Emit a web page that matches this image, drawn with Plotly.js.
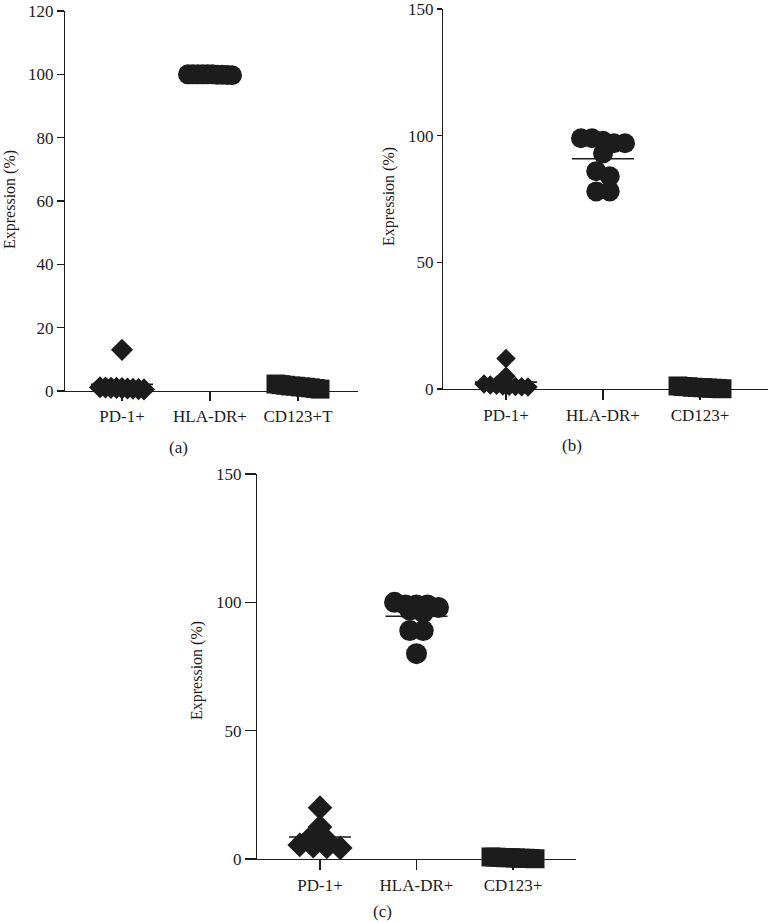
<!DOCTYPE html>
<html>
<head>
<meta charset="utf-8">
<script src="https://cdn.plot.ly/plotly-3.0.1.min.js"></script>
<style>
  html, body { margin: 0; padding: 0; background: #fff; }
  #chart { width: 770px; height: 922px; }
</style>
</head>
<body>
<div id="chart"></div>
<script>
// ---- data ----
const categoriesA = ['PD-1+', 'HLA-DR+', 'CD123+T'];
const categoriesBC = ['PD-1+', 'HLA-DR+', 'CD123+'];
const yTicksA = [0, 20, 40, 60, 80, 100, 120];
const yTicksBC = [0, 50, 100, 150];

// panel (a)
const aPD1 = [13, 1.2, 1.1, 1.0, 1.0, 0.9, 0.8, 0.7, 0.6, 0.5];
const aHLADR = [100, 100, 99.9, 100, 99.8, 100, 99.9, 100, 99.7, 100];
const aCD123 = [2.2, 2.0, 1.8, 1.6, 1.5, 1.3, 1.2, 1.0, 0.8, 0.6];

// panel (b)
const bPD1 = [12, 5, 2.0, 1.6, 1.5, 1.2, 1.1, 1.0, 0.9, 0.8];
const bHLADR = [99, 99, 98, 97, 97, 93, 86, 84, 78, 78];
const bCD123 = [1.2, 1.0, 0.9, 0.7, 0.6, 0.5, 0.4, 0.3, 0.2, 0.1];

// panel (c)
const cPD1 = [20, 12.5, 9.4, 7.4, 5.5, 5.0, 4.7, 4.3];
const cHLADR = [100, 99, 99, 99, 98, 97, 96, 89, 89, 80];
const cCD123 = [0.8, 0.7, 0.6, 0.5, 0.5, 0.4, 0.3, 0.3, 0.2, 0.1];

// ---- layout geometry (pixels in the 770x922 page) ----
const W = 770, H = 922;
const INK = '#1c1c1c';
const FONT = '"Liberation Serif", "Times New Roman", serif';
const TICK_SIZE = 17, TITLE_SIZE = 16, LABEL_SIZE = 17;

const panels = [
  { key: '', label: '(a)', cats: categoriesA, yTicks: yTicksA, yMax: 120,
    groups: [aPD1, aHLADR, aCD123],
    yAxisX: 64, xLeft: 57, xRight: 358, yTop: 11, yBottom: 391,
    cat0: 122, catStep: 88, yTickLen: 7, xTickLen: 9,
    sizes: [17, 20, 19], labelX: 178, labelY: 447, titleX: 10, titleY: 200 },
  { key: '2', label: '(b)', cats: categoriesBC, yTicks: yTicksBC, yMax: 150,
    groups: [bPD1, bHLADR, bCD123],
    yAxisX: 442, xLeft: 437, xRight: 768, yTop: 9, yBottom: 389,
    cat0: 506, catStep: 97, yTickLen: 5, xTickLen: 10,
    sizes: [15, 20, 19], labelX: 572, labelY: 445, titleX: 389, titleY: 197 },
  { key: '3', label: '(c)', cats: categoriesBC, yTicks: yTicksBC, yMax: 150,
    groups: [cPD1, cHLADR, cCD123],
    yAxisX: 256, xLeft: 245, xRight: 576, yTop: 474, yBottom: 859,
    cat0: 320, catStep: 96.5, yTickLen: 11, xTickLen: 10,
    sizes: [19, 21, 19], labelX: 382, labelY: 911, titleX: 197, titleY: 670 }
];

const symbols = ['diamond', 'circle', 'square'];

// Column scatter layout: points with close values share a row and are
// spread sideways around the category centre.
function spreadColumn(values, catIndex, p) {
  const pxPerUnit = (p.yBottom - p.yTop) / p.yMax;
  const rowTolPx = 6, stepPx = 13.5, maxWidthPx = 44;
  const order = values.map((v, i) => i).sort((i, j) => values[j] - values[i]);
  const rows = [];
  order.forEach(i => {
    const row = rows[rows.length - 1];
    if (row && (values[row[0]] - values[i]) * pxPerUnit <= rowTolPx) row.push(i);
    else rows.push([i]);
  });
  const xs = new Array(values.length);
  rows.forEach(row => {
    const n = row.length;
    const step = n > 1 ? Math.min(stepPx, maxWidthPx / (n - 1)) : 0;
    row.forEach((idx, k) => {
      xs[idx] = catIndex + ((k - (n - 1) / 2) * step) / p.catStep;
    });
  });
  return xs;
}

const traces = [];
const layout = {
  width: W, height: H,
  margin: { l: 0, r: 0, t: 0, b: 0 },
  paper_bgcolor: '#fff', plot_bgcolor: 'rgba(0,0,0,0)',
  showlegend: false,
  font: { family: FONT, color: INK, size: TICK_SIZE },
  annotations: []
};

panels.forEach(p => {
  const xa = 'x' + p.key, ya = 'y' + p.key;
  const meanHalfWidth = 31 / p.catStep;

  // mean lines underneath the points
  p.groups.forEach((vals, gi) => {
    const mean = vals.reduce((s, v) => s + v, 0) / vals.length;
    traces.push({
      type: 'scatter', mode: 'lines', xaxis: xa, yaxis: ya,
      x: [gi - meanHalfWidth, gi + meanHalfWidth], y: [mean, mean],
      line: { color: INK, width: 1.6 }, hoverinfo: 'skip', cliponaxis: false
    });
  });

  // individual values
  p.groups.forEach((vals, gi) => {
    traces.push({
      type: 'scatter', mode: 'markers', xaxis: xa, yaxis: ya,
      name: p.cats[gi],
      x: spreadColumn(vals, gi, p), y: vals,
      marker: { symbol: symbols[gi], size: p.sizes[gi], color: INK,
                line: { width: 0 } },
      cliponaxis: false
    });
  });

  const xRange = [-(p.cat0 - p.xLeft) / p.catStep, 2 + (p.xRight - (p.cat0 + 2 * p.catStep)) / p.catStep];

  layout['xaxis' + p.key] = {
    domain: [p.xLeft / W, p.xRight / W],
    anchor: ya, range: xRange,
    tickmode: 'array', tickvals: [0, 1, 2], ticktext: p.cats,
    showline: true, linecolor: INK, linewidth: 1.3,
    ticks: 'outside', ticklen: p.xTickLen, tickwidth: 1.3, tickcolor: INK,
    showgrid: false, zeroline: false, ticklabeloverflow: 'allow',
    tickfont: { family: FONT, size: TICK_SIZE, color: INK }
  };
  layout['yaxis' + p.key] = {
    domain: [1 - p.yBottom / H, 1 - p.yTop / H],
    anchor: 'free', position: p.yAxisX / W, range: [0, p.yMax],
    tickmode: 'array', tickvals: p.yTicks,
    showline: true, linecolor: INK, linewidth: 1.3,
    ticks: 'outside', ticklen: p.yTickLen, tickwidth: 1.3, tickcolor: INK,
    showgrid: false, zeroline: false, ticklabeloverflow: 'allow',
    tickfont: { family: FONT, size: TICK_SIZE, color: INK }
  };

  layout.annotations.push({
    text: 'Expression (%)', xref: 'paper', yref: 'paper',
    x: p.titleX / W, y: 1 - p.titleY / H, xanchor: 'center', yanchor: 'middle',
    textangle: -90, showarrow: false, font: { family: FONT, size: TITLE_SIZE, color: INK }
  });
  layout.annotations.push({
    text: p.label, xref: 'paper', yref: 'paper',
    x: p.labelX / W, y: 1 - p.labelY / H, xanchor: 'center', yanchor: 'middle',
    showarrow: false, font: { family: FONT, size: LABEL_SIZE, color: INK }
  });
});

Plotly.newPlot('chart', traces, layout, { staticPlot: true });
</script>
</body>
</html>
